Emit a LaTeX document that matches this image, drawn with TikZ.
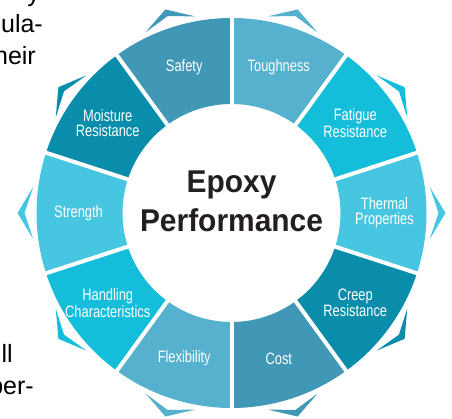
\documentclass[tikz,border=0pt]{standalone}
\usepackage{fontspec}
\setmainfont{Liberation Sans}
\newfontfamily\segfont[FakeStretch=0.78]{Liberation Sans}
\newfontfamily\hubfont[FakeStretch=0.95]{Liberation Sans}
\definecolor{segA}{HTML}{4098B6}
\definecolor{segB}{HTML}{55B1CD}
\definecolor{segC}{HTML}{14BEDA}
\definecolor{segD}{HTML}{47C6E2}
\definecolor{segE}{HTML}{0A8DAB}
\definecolor{hubblack}{HTML}{231F20}
\tikzset{
  seglabel/.style={text=white, align=center, inner sep=0pt,
    font=\segfont\fontsize{16.5}{15}\selectfont},
  hubtext/.style={text=hubblack, inner sep=0pt, anchor=base,
    font=\hubfont\bfseries\fontsize{31.5}{39}\selectfont},
  bodytext/.style={text=black, inner sep=0pt, anchor=base east,
    font=\fontsize{25}{33}\selectfont},
  gapline/.style={white, line width=4pt}
}
\begin{document}
\begin{tikzpicture}[x=1pt, y=1pt]
\useasboundingbox (0,0) rectangle (452,419);
\clip (0,0) rectangle (452,419);

\node[bodytext] (frag1) at (40,417) {y};
\node[bodytext] (frag2) at (43,386) {ula-};
\node[bodytext] (frag3) at (36,354) {heir};
\node[bodytext] (frag4) at (13,56) {ll};
\node[bodytext] (frag5) at (34,24) {per-};

\begin{scope}[shift={(231.5,206)}]
  \foreach \a/\c/\t [count=\i] in {108/segA/Safety, 72/segB/Toughness,
      36/segC/{Fatigue\\Resistance}, 0/segD/{Thermal\\Properties},
      -36/segE/{Creep\\Resistance}, -72/segA/Cost, -108/segB/Flexibility,
      -144/segC/{Handling\\Characteristics}, 180/segD/Strength,
      144/segE/{Moisture\\Resistance}}{
    \fill[\c] (\a-18:195) arc[start angle=\a-18, end angle=\a+18, radius=195]
      -- (\a+18:109) arc[start angle=\a+18, end angle=\a-18, radius=109] -- cycle;
    \fill[\c] (\a-7.5:200) -- (\a:214) -- (\a+7.5:200) -- (\a:207) -- cycle;
    \node[seglabel] (seg\i) at (\a:153) {\t};
  }
  \foreach \b in {18,54,...,342}{
    \draw[gapline] (\b:100) -- (\b:200);
  }
\end{scope}

\node[hubtext] (epoxy) at (231.5,226) {Epoxy};
\node[hubtext] (perf) at (231.5,187) {Performance};
\end{tikzpicture}
\end{document}
